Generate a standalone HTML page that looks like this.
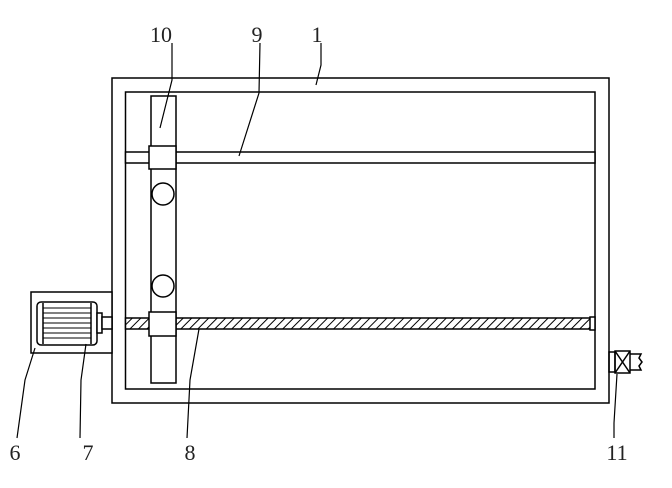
<!DOCTYPE html>
<html><head><style>
html,body{margin:0;padding:0;background:#fff;}
svg{display:block;}
text{font-family:"Liberation Serif",serif;font-size:22px;fill:#222;}
</style></head><body>
<svg width="672" height="488" viewBox="0 0 672 488" xmlns="http://www.w3.org/2000/svg">
<defs>
<pattern id="h" width="6" height="6" patternUnits="userSpaceOnUse" patternTransform="rotate(45)">
<rect width="6" height="6" fill="#fff"/><line x1="0" y1="0" x2="0" y2="6" stroke="#000" stroke-width="2"/>
</pattern>
</defs>
<g fill="none" stroke="#000" stroke-width="1.5">
<rect x="112" y="78" width="497" height="325" fill="#fff"/>
<rect x="125.5" y="92" width="469.5" height="297"/>
<!-- rod 9 -->
<rect x="125.5" y="152" width="469.5" height="11" fill="#fff"/>
<!-- screw 8 -->
<rect x="125.5" y="318" width="465" height="11" fill="url(#h)"/>
<rect x="590" y="317" width="5" height="13" fill="#fff"/>
<!-- vertical bar 10 -->
<rect x="151" y="96" width="25" height="287" fill="#fff"/>
<rect x="149" y="146" width="27" height="23" fill="#fff"/>
<rect x="149" y="312" width="27" height="24" fill="#fff"/>
<circle cx="163" cy="194" r="11" fill="#fff"/>
<circle cx="163" cy="286" r="11" fill="#fff"/>
<!-- motor -->
<rect x="31" y="292" width="81" height="61" fill="#fff"/>
<rect x="37" y="302" width="60" height="43" rx="4" fill="#fff"/>
<line x1="43" y1="303" x2="43" y2="344"/>
<line x1="91" y1="303" x2="91" y2="344"/>
<g stroke-width="1">
<line x1="43" y1="308" x2="91" y2="308"/><line x1="43" y1="313" x2="91" y2="313"/>
<line x1="43" y1="318" x2="91" y2="318"/><line x1="43" y1="323" x2="91" y2="323"/>
<line x1="43" y1="328" x2="91" y2="328"/><line x1="43" y1="333" x2="91" y2="333"/>
<line x1="43" y1="338" x2="91" y2="338"/>
</g>
<rect x="97" y="313" width="5" height="20" fill="#fff"/>
<rect x="102" y="317" width="10" height="12" fill="#fff"/>
<!-- valve 11 -->
<rect x="609" y="352" width="6" height="20"/>
<rect x="615" y="351" width="15" height="22"/>
<line x1="615" y1="351" x2="630" y2="373"/><line x1="630" y1="351" x2="615" y2="373"/>
<path d="M630 354 H641 L639 358 L642 362 L639 366 L641 370 H630"/>
<!-- leaders -->
<g stroke-width="1.2">
<polyline points="172,43 172,80 160,128"/>
<polyline points="260,43 259,93 239,156"/>
<polyline points="321,43 321,65 316,85"/>
<polyline points="17,438 25,380 35,348"/>
<polyline points="80,438 81,380 86,344"/>
<polyline points="187,438 190,380 199,329"/>
<polyline points="614,438 614,423 617,374"/>
</g>
</g>
<text x="161" y="42" text-anchor="middle">10</text>
<text x="257" y="42" text-anchor="middle">9</text>
<text x="317" y="42" text-anchor="middle">1</text>
<text x="15" y="460" text-anchor="middle">6</text>
<text x="88" y="460" text-anchor="middle">7</text>
<text x="190" y="460" text-anchor="middle">8</text>
<text x="617" y="460" text-anchor="middle">11</text>
</svg>
</body></html>
